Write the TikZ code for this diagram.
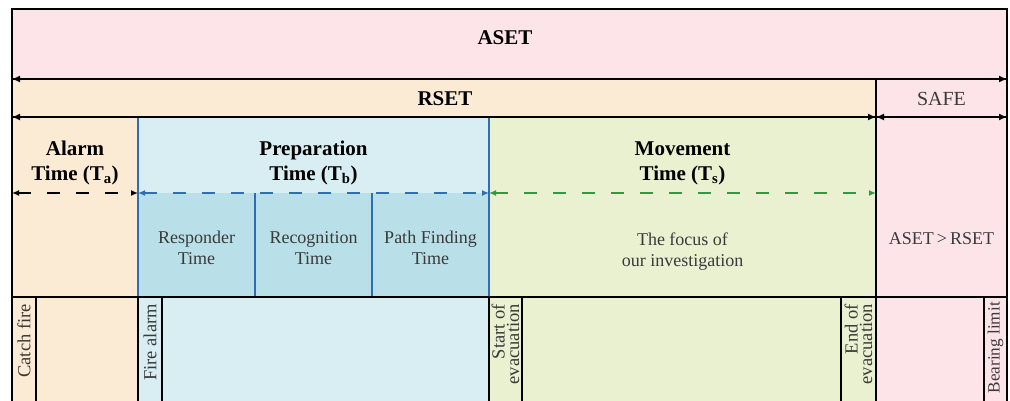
\documentclass[tikz,border=0pt]{standalone}
\usepackage{fontspec}
\setmainfont{Liberation Serif}
\usepackage{xcolor}
\usetikzlibrary{arrows.meta}

\definecolor{asetpink}{HTML}{FCE4E8}
\definecolor{rsetsand}{HTML}{FCEBD4}
\definecolor{prepblue}{HTML}{D9EEF3}
\definecolor{subblue}{HTML}{B9E0E8}
\definecolor{movegreen}{HTML}{EAF1D1}
\definecolor{edgeblue}{HTML}{2F6EB5}
\definecolor{edgegreen}{HTML}{2E9B43}
\definecolor{inkgray}{HTML}{3A3A3A}

\begin{document}
\begin{tikzpicture}[x=1pt, y=-1pt,
    cell/.style={draw=black, line width=1.2pt, anchor=north west, inner sep=0pt, outer sep=0pt},
    title/.style={font=\fontsize{21}{25}\selectfont\bfseries, align=center},
    note/.style={font=\fontsize{18}{21}\selectfont, text=inkgray, align=center},
    tag/.style={font=\fontsize{18.5}{14.5}\selectfont, text=inkgray, rotate=90, anchor=east, align=right, inner sep=0pt},
    span/.style={line width=1.2pt, arrows={Latex[length=8pt,width=7pt]-Latex[length=8pt,width=7pt]}},
    phase/.style={line width=1.5pt, dash pattern=on 13pt off 16pt, arrows={Latex[length=7pt,width=6pt]-Latex[length=7pt,width=6pt]}}]

    \clip (0,0) rectangle (1010,400);

    % ASET row
    \node[cell, fill=asetpink, minimum width=995, minimum height=70] (aset) at (12,9) {};

    % RSET and SAFE rows
    \node[cell, fill=rsetsand, minimum width=864, minimum height=38] (rset) at (12,79) {};
    \node[cell, fill=asetpink, minimum width=131, minimum height=38] (safehead) at (876,79) {};
    \node[cell, fill=asetpink, minimum width=131, minimum height=180] (safe) at (876,117) {};

    % Phase columns
    \node[cell, fill=rsetsand, minimum width=126, minimum height=180] (alarm) at (12,117) {};
    \node[cell, fill=movegreen, minimum width=387, minimum height=180] (move) at (489,117) {};
    \node[cell, draw=edgeblue, fill=prepblue, minimum width=351, minimum height=180] (prep) at (138,117) {};

    % Preparation parts
    \node[cell, draw=none, fill=subblue, minimum width=117, minimum height=104] (resp) at (138,193) {};
    \node[cell, draw=none, fill=subblue, minimum width=117, minimum height=104] (recog) at (255,193) {};
    \node[cell, draw=none, fill=subblue, minimum width=117, minimum height=104] (path) at (372,193) {};
    \draw[edgeblue, line width=1.2pt] (resp.north west) -- (resp.south west)
        (resp.north east) -- (resp.south east)
        (recog.north east) -- (recog.south east)
        (path.north east) -- (path.south east);

    % Event row
    \node[cell, fill=rsetsand, minimum width=126, minimum height=120] (alarmfoot) at (12,297) {};
    \node[cell, fill=prepblue, minimum width=351, minimum height=120] (prepfoot) at (138,297) {};
    \node[cell, fill=movegreen, minimum width=387, minimum height=120] (movefoot) at (489,297) {};
    \node[cell, fill=asetpink, minimum width=131, minimum height=120] (safefoot) at (876,297) {};
    \node[cell, minimum width=24, minimum height=120] (catch) at (12,297) {};
    \node[cell, minimum width=24, minimum height=120] (firealarm) at (138,297) {};
    \node[cell, minimum width=33, minimum height=120] (start) at (489,297) {};
    \node[cell, minimum width=35, minimum height=120] (finish) at (841,297) {};
    \node[cell, minimum width=23, minimum height=120] (limit) at (984,297) {};

    % Time spans
    \draw[span] (aset.south west) -- (aset.south east);
    \draw[span] (rset.south west) -- (rset.south east);
    \draw[span] (safehead.south west) -- (safehead.south east);
    \draw[phase] (alarm.west |- resp.north) -- (alarm.east |- resp.north);
    \draw[phase, edgeblue] (resp.north west) -- (path.north east);
    \draw[phase, edgegreen] (move.west |- resp.north) -- (move.east |- resp.north);

    % Labels
    \node[title] (asetlabel) at (505,38) {ASET};
    \node[title] (rsetlabel) at (445,99) {RSET};
    \node[note, font=\fontsize{20}{24}\selectfont] (safelabel) at (941.5,99) {SAFE};
    \node[title] (alarmlabel) at (75,163) {Alarm\\Time (T\textsubscript{a})};
    \node[title] (preplabel) at (313.5,163) {Preparation\\Time (T\textsubscript{b})};
    \node[title] (movelabel) at (682.5,163) {Movement\\Time (T\textsubscript{s})};
    \node[note] (resplabel) at ([yshift=-3pt]resp.center) {Responder\\Time};
    \node[note] (recoglabel) at ([yshift=-3pt]recog.center) {Recognition\\Time};
    \node[note] (pathlabel) at ([yshift=-3pt]path.center) {Path Finding\\Time};
    \node[note] (focuslabel) at (682.5,252) {The focus of\\our investigation};
    \node[note] (safetylabel) at (941.5,239) {ASET\,>\,RSET};

    % Events
    \node[tag] (catchlabel) at ([yshift=-7pt]catch.north) {Catch fire};
    \node[tag] (firelabel) at ([yshift=-7pt]firealarm.north) {Fire alarm};
    \node[tag] (startlabel) at ([yshift=-7pt]start.north) {Start of\\evacuation};
    \node[tag] (finishlabel) at ([yshift=-7pt]finish.north) {End of\\evacuation};
    \node[tag, font=\fontsize{17.2}{14.5}\selectfont] (limitlabel) at ([yshift=-5pt]limit.north) {Bearing limit};
\end{tikzpicture}
\end{document}
